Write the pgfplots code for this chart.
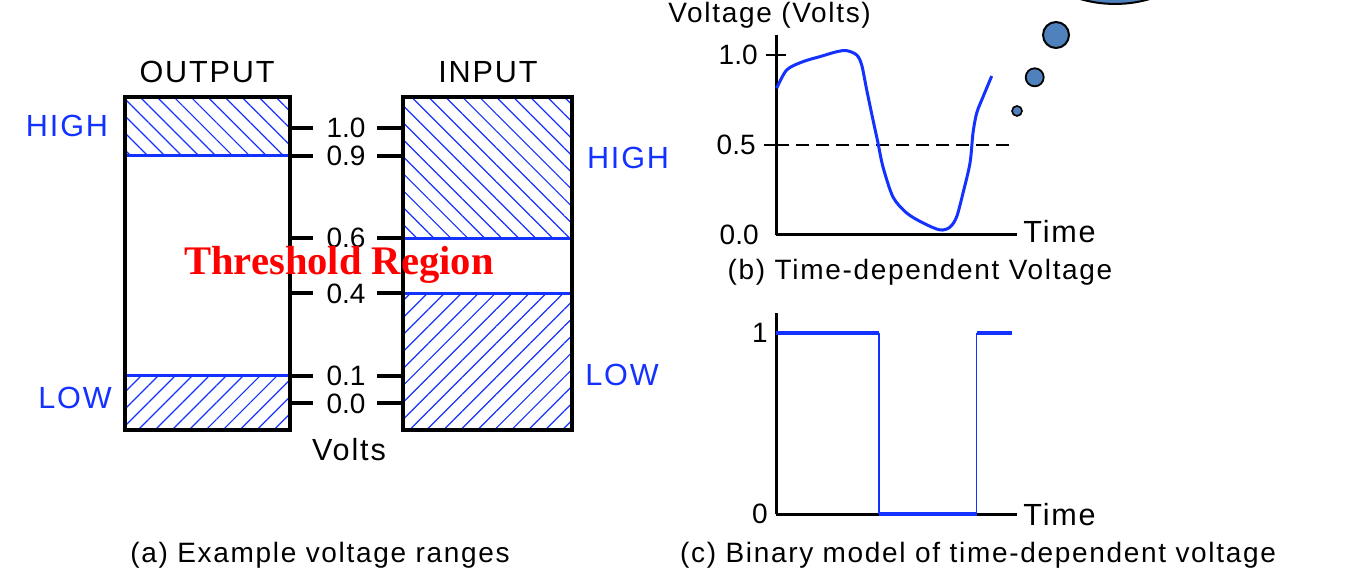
\documentclass[border=0pt]{standalone}
\usepackage{fontspec}
\setmainfont{Liberation Sans}
\newfontfamily\lab[LetterSpace=6]{Liberation Sans}
\newfontfamily\thr{Liberation Serif}
\usepackage{pgfplots}
\pgfplotsset{compat=1.18}
\usetikzlibrary{patterns.meta}
\definecolor{hblue}{RGB}{20,50,255}
\definecolor{bub}{RGB}{79,129,189}
\newcommand\fa{\lab\fontsize{15.3}{18}\selectfont}
\newcommand\fb{\lab\fontsize{14}{17}\selectfont}
\newcommand\fd{\fontsize{14}{17}\selectfont}
\begin{document}
\begin{tikzpicture}
\useasboundingbox (0,0) rectangle (676pt,284pt);
\clip (0,0) rectangle (676pt,284pt);
% ---------------- panel (a)
\begin{axis}[at={(62.5pt,69pt)}, anchor=south west, scale only axis,
  width=223.5pt, height=166.5pt, xmin=125, xmax=572, ymin=-0.0967, ymax=1.1138,
  axis lines=none, clip=false]
\addplot[draw=none, pattern={Lines[angle=-45,distance=6pt,line width=0.6pt]}, pattern color=hblue]
  coordinates {(125,0.9) (290,0.9) (290,1.1138) (125,1.1138)} -- cycle;
\addplot[draw=none, pattern={Lines[angle=45,distance=6pt,line width=0.6pt]}, pattern color=hblue]
  coordinates {(125,-0.0967) (290,-0.0967) (290,0.1) (125,0.1)} -- cycle;
\addplot[draw=none, pattern={Lines[angle=-45,distance=6pt,line width=0.6pt]}, pattern color=hblue]
  coordinates {(403,0.6) (572,0.6) (572,1.1138) (403,1.1138)} -- cycle;
\addplot[draw=none, pattern={Lines[angle=45,distance=6pt,line width=0.6pt]}, pattern color=hblue]
  coordinates {(403,-0.0967) (572,-0.0967) (572,0.4) (403,0.4)} -- cycle;
\addplot[hblue, line width=1.6pt] coordinates {(125,0.9) (290,0.9)};
\addplot[hblue, line width=1.6pt] coordinates {(125,0.1) (290,0.1)};
\addplot[hblue, line width=1.6pt] coordinates {(403,0.6) (572,0.6)};
\addplot[hblue, line width=1.6pt] coordinates {(403,0.4) (572,0.4)};
\addplot[black, line width=1.8pt] coordinates {(125,-0.0967) (290,-0.0967) (290,1.1138) (125,1.1138)} -- cycle;
\addplot[black, line width=1.8pt] coordinates {(403,-0.0967) (572,-0.0967) (572,1.1138) (403,1.1138)} -- cycle;
\pgfplotsinvokeforeach{1.0,0.9,0.6,0.4,0.1,0.0}{
  \addplot[black, line width=2pt] coordinates {(290,#1) (313,#1)};
  \addplot[black, line width=2pt] coordinates {(377,#1) (403,#1)};
  \node[font=\fd] at (axis cs:346,#1) {#1};
}
\end{axis}
% ---------------- panel (b)
\begin{axis}[at={(388pt,166.5pt)}, anchor=south west, scale only axis,
  width=120.5pt, height=100pt, xmin=0, xmax=241, ymin=0, ymax=1.111,
  axis lines=left, axis line style={-, line width=1.5pt},
  xtick=\empty, ytick={0.5}, yticklabels={0.5},
  extra y ticks={1}, extra y tick labels={1.0},
  extra y tick style={tick align=center, major tick length=10pt, tick style={line width=1.5pt}},
  tick align=outside, major tick length=6pt, ytick style={black, line width=0.8pt},
  yticklabel style={font=\fd, anchor=east, inner sep=0pt, xshift=-4pt},
  clip=false]
\addplot[black, line width=0.7pt, dash pattern=on 6.5pt off 3.5pt] coordinates {(0,0.5) (237,0.5)};
\addplot[hblue, line width=1.5pt, smooth, tension=0.5] coordinates {
 (0.7,0.815) (10.7,0.917) (27,0.963) (44,0.991) (60.7,1.018) (70.7,1.024) (80.7,1.0)
 (85.7,0.944) (90.7,0.806) (97,0.639) (102,0.511) (107,0.378) (117,0.211) (130.7,0.122)
 (147,0.067) (164,0.028) (174,0.044) (180.7,0.102) (187,0.233) (194,0.4) (197,0.567)
 (200.7,0.678) (207,0.767) (215.7,0.883)};
\node[font=\fd, anchor=east, inner sep=0pt] at (axis cs:-17,0) {0.0};
\addplot[only marks, mark=*, mark size=2.5pt, mark options={fill=bub, draw=black, line width=0.8pt}] coordinates {(241,0.689)};
\addplot[only marks, mark=*, mark size=4.5pt, mark options={fill=bub, draw=black, line width=0.9pt}] coordinates {(258.7,0.876)};
\addplot[only marks, mark=*, mark size=6.5pt, mark options={fill=bub, draw=black, line width=1pt}] coordinates {(280,1.111)};
\addplot[only marks, mark=*, mark size=32pt, mark options={fill=bub, draw=black, line width=1pt, xscale=1.406}] coordinates {(339,1.639)};
\end{axis}
% ---------------- panel (c)
\begin{axis}[at={(388pt,27pt)}, anchor=south west, scale only axis,
  width=120.5pt, height=100.5pt, xmin=0, xmax=241, ymin=0, ymax=1.11,
  axis lines=left, axis line style={-, line width=1.5pt},
  xtick=\empty, ytick={0,1}, yticklabels={0,1}, major tick length=0pt,
  yticklabel style={font=\fd, anchor=east, inner sep=0pt, xshift=-4pt},
  clip=false]
\addplot[hblue, line width=2pt] coordinates {(0,1) (103,1)};
\addplot[hblue, line width=0.7pt] coordinates {(103,1) (103,0)};
\addplot[hblue, line width=2pt] coordinates {(103,0) (200.7,0)};
\addplot[hblue, line width=0.7pt] coordinates {(200.7,0) (200.7,1)};
\addplot[hblue, line width=2pt] coordinates {(200.7,1) (235.7,1)};
\end{axis}
% ---------------- texts
\begin{scope}[x=0.5pt, y=-0.5pt, shift={(0pt,284pt)}]
\node[anchor=base, font=\fa] at (207,83) {OUTPUT};
\node[anchor=base, font=\fa] at (488,83) {INPUT};
\node[anchor=base, font=\fa, text=hblue] at (67,137) {HIGH};
\node[anchor=base, font=\fa, text=hblue] at (75,408) {LOW};
\node[anchor=base, font=\fa, text=hblue] at (628,169) {HIGH};
\node[anchor=base, font=\fa, text=hblue] at (622,385) {LOW};
\node[anchor=base, font=\fa] at (349,460) {Volts};
\node[anchor=base, text=red, font=\thr\bfseries\fontsize{20.3}{24}\selectfont] at (339,275) {Threshold Region};
\node[anchor=base, font=\fb] at (320,562) {(a) Example voltage ranges};
\node[anchor=base, font=\fb] at (920,280) {(b) Time-dependent Voltage};
\node[anchor=base, font=\fb] at (978,562) {(c) Binary model of time-dependent voltage};
\node[anchor=base west, font=\fb, inner sep=0pt] at (668,23) {Voltage (Volts)};
\node[anchor=base west, font=\fa, inner sep=0pt] at (1023,243) {Time};
\node[anchor=base west, font=\fa, inner sep=0pt] at (1023,525) {Time};
\end{scope}
\end{tikzpicture}
\end{document}
